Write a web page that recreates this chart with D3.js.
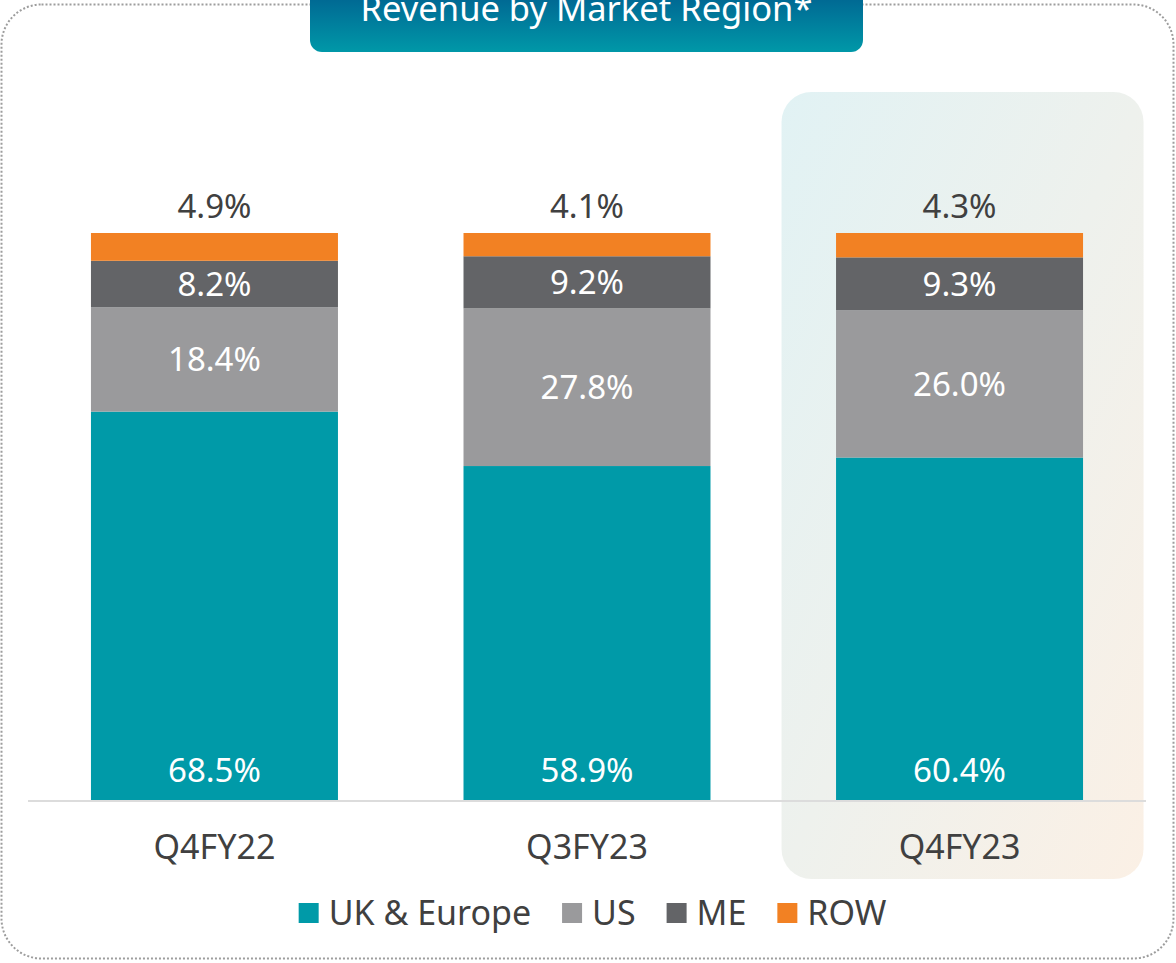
<!DOCTYPE html>
<html>
<head>
<meta charset="utf-8">
<script src="https://cdn.jsdelivr.net/npm/d3@7"></script>
<style>
  html, body { margin: 0; padding: 0; background: #fff; }
  svg text { font-family: "Noto Sans", "Open Sans", sans-serif; }
</style>
</head>
<body>
<div class="chart"></div>
<script>
// Chart data
const periods = ['Q4FY22', 'Q3FY23', 'Q4FY23'];
const regions = ['UK & Europe', 'US', 'ME', 'ROW'];
const ukEurope = [68.5, 58.9, 60.4];
const us = [18.4, 27.8, 26.0];
const me = [8.2, 9.2, 9.3];
const row = [4.9, 4.1, 4.3];
const colors = ['#009aa8', '#9a9a9c', '#636467', '#f28123'];
const highlighted = 'Q4FY23';

const width = 1176;
const height = 963;

const table = periods.map((p, i) => ({
  period: p,
  'UK & Europe': ukEurope[i],
  'US': us[i],
  'ME': me[i],
  'ROW': row[i]
}));

const svg = d3.select('.chart')
  .append('svg')
  .attr('width', width)
  .attr('height', height);

const defs = svg.append('defs');

// title gradient
const tg = defs.append('linearGradient')
  .attr('id', 'titleGrad')
  .attr('x1', 0).attr('y1', 0).attr('x2', 0).attr('y2', 1);
tg.append('stop').attr('offset', '0%').attr('stop-color', '#00588c');
tg.append('stop').attr('offset', '100%').attr('stop-color', '#0098a8');

// highlight panel gradient
const hg = defs.append('linearGradient')
  .attr('id', 'hiGrad')
  .attr('x1', 0).attr('y1', 0).attr('x2', 1).attr('y2', 1);
hg.append('stop').attr('offset', '0%').attr('stop-color', '#e1f2f4');
hg.append('stop').attr('offset', '50%').attr('stop-color', '#eef1ed');
hg.append('stop').attr('offset', '100%').attr('stop-color', '#fbf0e5');

// dotted frame
svg.append('rect')
  .attr('x', 1.5)
  .attr('y', 4.5)
  .attr('width', 1172)
  .attr('height', 954)
  .attr('rx', 40)
  .attr('fill', 'none')
  .attr('stroke', '#9d9d9d')
  .attr('stroke-width', 2)
  .attr('stroke-dasharray', '2,2');

// Scales
const x = d3.scaleBand()
  .domain(periods)
  .range([28, 1146])
  .paddingInner(0.337)
  .paddingOuter(0.169);

const y = d3.scaleLinear()
  .domain([0, 100])
  .range([800, 233]);

// highlight panel behind the last column
const hx = x(highlighted) + x.bandwidth() / 2;
svg.append('rect')
  .attr('x', hx - 178)
  .attr('y', 92)
  .attr('width', 362)
  .attr('height', 787)
  .attr('rx', 30)
  .attr('fill', 'url(#hiGrad)');

// title box
svg.append('rect')
  .attr('x', 310)
  .attr('y', -20)
  .attr('width', 553)
  .attr('height', 72)
  .attr('rx', 12)
  .attr('fill', 'url(#titleGrad)');

svg.append('text')
  .attr('x', 586.5)
  .attr('y', 21)
  .attr('text-anchor', 'middle')
  .attr('fill', '#fff')
  .attr('font-size', 34.5)
  .text('Revenue by Market Region*');

// Stack
const stack = d3.stack().keys(regions);
const series = stack(table);
const color = d3.scaleOrdinal().domain(regions).range(colors);

const layers = svg.selectAll('.layer')
  .data(series)
  .enter()
  .append('g')
  .attr('class', 'layer')
  .attr('fill', d => color(d.key));

layers.selectAll('rect')
  .data(d => d)
  .enter()
  .append('rect')
  .attr('x', d => x(d.data.period))
  .attr('y', d => y(d[1]))
  .attr('width', x.bandwidth())
  .attr('height', d => y(d[0]) - y(d[1]));

// baseline
svg.append('line')
  .attr('x1', 28)
  .attr('x2', 1146)
  .attr('y1', y(0) + 1)
  .attr('y2', y(0) + 1)
  .attr('stroke', '#dcdcdc')
  .attr('stroke-width', 2);

// value labels
series.forEach(s => {
  s.forEach(d => {
    const cx = x(d.data.period) + x.bandwidth() / 2;
    const val = d.data[s.key];
    let ly, fill;
    if (s.key === 'ROW') {
      ly = y(d[1]) - 15;
      fill = '#404040';
    } else if (s.key === 'UK & Europe') {
      ly = y(d[0]) - 18;
      fill = '#fff';
    } else {
      ly = (y(d[0]) + y(d[1])) / 2 + 12;
      fill = '#fff';
    }
    svg.append('text')
      .attr('x', cx)
      .attr('y', ly)
      .attr('text-anchor', 'middle')
      .attr('fill', fill)
      .attr('font-size', 33)
      .text(val.toFixed(1) + '%');
  });
});

// category axis labels
svg.append('g')
  .selectAll('text')
  .data(periods)
  .enter()
  .append('text')
  .attr('x', d => x(d) + x.bandwidth() / 2)
  .attr('y', 859)
  .attr('text-anchor', 'middle')
  .attr('fill', '#404040')
  .attr('font-size', 34)
  .text(d => d);

// legend
const legend = svg.append('g').attr('class', 'legend');
const items = legend.selectAll('g')
  .data(regions)
  .enter()
  .append('g');

items.append('rect')
  .attr('width', 20)
  .attr('height', 20)
  .attr('y', 903)
  .attr('fill', d => color(d));

items.append('text')
  .attr('x', 30)
  .attr('y', 925)
  .attr('fill', '#404040')
  .attr('font-size', 34)
  .text(d => d);

// lay legend items out side by side, centred
let offset = 0;
const gap = 31;
const widths = [];
items.each(function() {
  widths.push(30 + d3.select(this).select('text').node().getComputedTextLength());
});
const total = d3.sum(widths) + gap * (widths.length - 1);
let start = 592.5 - total / 2;
items.attr('transform', (d, i) => {
  const tx = start + offset;
  offset += widths[i] + gap;
  return `translate(${tx},0)`;
});
</script>
</body>
</html>
